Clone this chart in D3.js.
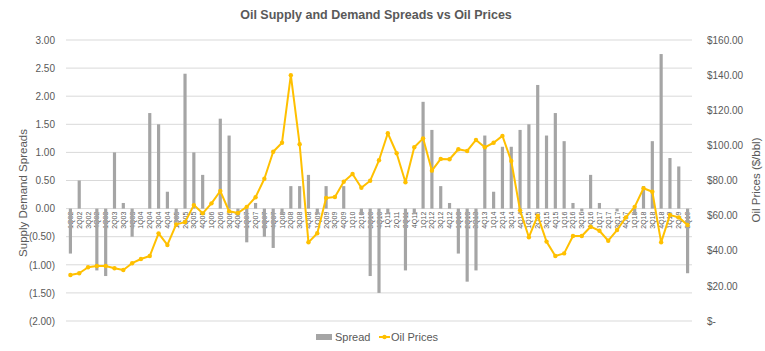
<!DOCTYPE html>
<html>
<head>
<meta charset="utf-8">
<script src="https://cdn.jsdelivr.net/npm/d3@7"></script>
<style>
  body { margin: 0; background: #fff; }
  svg { font-family: "Liberation Sans", Arial, sans-serif; }
</style>
</head>
<body>
<svg id="chart" width="765" height="351"></svg>
<script>

// quarters, 1Q02 .. 3Q19
const quarters = [];
for (let y = 2; y <= 19; y++) {
    for (let q = 1; q <= 4; q++) {
        if (y === 19 && q > 3) break;
        quarters.push(`${q}Q${String(y).padStart(2, '0')}`);
    }
}

// supply demand spread per quarter
const spread = [
    -0.8, 0.5, 0, -1.1,
    -1.2, 1.0, 0.1, -0.5,
    0, 1.7, 1.5, 0.3,
    -0.25, 2.4, 1.0, 0.6,
    0, 1.6, 1.3, -0.15,
    -0.6, 0.1, -0.5, -0.7,
    -0.1, 0.4, 0.4, 0.6,
    -0.1, 0.4, 0, 0.4,
    0, -0.1, -1.2, -1.5,
    -0.1, 0, -1.1, -0.1,
    1.9, 1.4, 0.4, 0.1,
    -0.8, -1.3, -1.1, 1.3,
    0.3, 1.1, 1.1, 1.4,
    1.5, 2.2, 1.3, 1.7,
    1.2, 0.1, -0.05, 0.6,
    0.1, 0, -0.05, 0,
    -0.1, 0.4, 1.2, 2.75,
    0.9, 0.75, -1.15
];

// oil price $/bbl per quarter
const oilPrice = [
    26.2, 27.2, 30.6, 31.3,
    31.3, 30.0, 29.0, 32.9,
    35.3, 37.0, 49.9, 43.3,
    55.0, 56.3, 66.0, 61.3,
    67.0, 74.0, 62.5, 61.5,
    65.0, 70.5, 81.0, 96.4,
    101.5, 140.0, 100.6, 44.8,
    50.0, 70.0, 70.6, 79.3,
    83.7, 75.9, 79.9, 91.5,
    106.9, 95.5, 79.0, 98.9,
    104.0, 85.6, 92.3, 92.1,
    97.8, 96.8, 103.1, 98.9,
    101.5, 105.4, 91.1, 63.0,
    47.7, 60.0, 45.2, 37.0,
    38.5, 48.4, 48.4, 53.7,
    51.4, 45.7, 51.8, 59.0,
    65.0, 75.6, 73.6, 44.8,
    60.4, 59.0, 54.7
];

const leftTicks = [-2, -1.5, -1, -0.5, 0, 0.5, 1, 1.5, 2, 2.5, 3];
const rightTicks = [0, 20, 40, 60, 80, 100, 120, 140, 160];

const svg = d3.select('#chart');
const margin = {top: 40, right: 73, bottom: 30, left: 66};
const width = 765, height = 351;
const textColor = '#595959';

// scales
const x = d3.scaleBand()
    .domain(quarters)
    .range([margin.left, width - margin.right]);
const yL = d3.scaleLinear()
    .domain([-2, 3])
    .range([height - margin.bottom, margin.top]);
const yR = d3.scaleLinear()
    .domain([0, 160])
    .range([height - margin.bottom, margin.top]);

// title
svg.append('text')
    .attr('x', 376)
    .attr('y', 19)
    .attr('text-anchor', 'middle')
    .attr('font-size', 12.5)
    .attr('font-weight', 'bold')
    .attr('fill', textColor)
    .text('Oil Supply and Demand Spreads vs Oil Prices');

// gridlines
svg.append('g')
    .selectAll('line')
    .data(leftTicks)
    .join('line')
        .attr('x1', margin.left)
        .attr('x2', width - margin.right)
        .attr('y1', d => yL(d))
        .attr('y2', d => yL(d))
        .attr('stroke', '#d9d9d9')
        .attr('stroke-width', 1);

// left axis
const fmtL = d => d < 0 ? `(${d3.format('.2f')(-d)})` : d3.format('.2f')(d);
svg.append('g')
    .attr('transform', `translate(${margin.left - 8},0)`)
    .call(d3.axisLeft(yL).tickValues(leftTicks).tickFormat(fmtL).tickSize(0))
    .call(g => g.select('.domain').remove())
    .call(g => g.selectAll('text')
        .attr('font-size', 10)
        .attr('font-family', '"Liberation Sans", Arial, sans-serif')
        .attr('fill', textColor));

// right axis
const fmtR = d => d === 0 ? '$-' : '$' + d3.format('.2f')(d);
svg.append('g')
    .attr('transform', `translate(${width - margin.right + 12},0)`)
    .call(d3.axisRight(yR).tickValues(rightTicks).tickFormat(fmtR).tickSize(0))
    .call(g => g.select('.domain').remove())
    .call(g => g.selectAll('text')
        .attr('font-size', 10)
        .attr('font-family', '"Liberation Sans", Arial, sans-serif')
        .attr('fill', textColor));

// axis titles
svg.append('text')
    .attr('transform', 'translate(27,193) rotate(-90)')
    .attr('text-anchor', 'middle')
    .attr('font-size', 11.5)
    .attr('fill', textColor)
    .text('Supply Demand Spreads');

svg.append('text')
    .attr('transform', 'translate(760,180) rotate(-90)')
    .attr('text-anchor', 'middle')
    .attr('font-size', 11.5)
    .attr('fill', textColor)
    .text('Oil Prices ($/bbl)');

// category labels sit at the zero line, behind the bars
svg.append('g')
    .selectAll('text')
    .data(quarters)
    .join('text')
        .attr('transform', d => `translate(${x(d) + x.bandwidth() / 2 + 2.5},${yL(0) + 3}) rotate(-90)`)
        .attr('text-anchor', 'end')
        .attr('font-size', 7)
        .attr('fill', textColor)
        .text(d => d);

// bars
const barW = x.bandwidth() * 0.36;
svg.append('g')
    .selectAll('rect')
    .data(spread)
    .join('rect')
        .attr('x', (d, i) => x(quarters[i]) + (x.bandwidth() - barW) / 2)
        .attr('y', d => yL(Math.max(0, d)))
        .attr('width', barW)
        .attr('height', d => Math.abs(yL(d) - yL(0)))
        .attr('fill', '#a5a5a5');

// oil price line
const line = d3.line()
    .x((d, i) => x(quarters[i]) + x.bandwidth() / 2)
    .y(d => yR(d));

svg.append('path')
    .datum(oilPrice)
    .attr('fill', 'none')
    .attr('stroke', '#ffc000')
    .attr('stroke-width', 2)
    .attr('stroke-linejoin', 'round')
    .attr('d', line);

svg.append('g')
    .selectAll('circle')
    .data(oilPrice)
    .join('circle')
        .attr('cx', (d, i) => x(quarters[i]) + x.bandwidth() / 2)
        .attr('cy', d => yR(d))
        .attr('r', 2.2)
        .attr('fill', '#ffc000');

// legend
const legend = svg.append('g').attr('transform', 'translate(316,337)');
legend.append('rect')
    .attr('x', 0).attr('y', -3)
    .attr('width', 16).attr('height', 6)
    .attr('fill', '#a5a5a5');
legend.append('text')
    .attr('x', 19).attr('y', 4)
    .attr('font-size', 11)
    .attr('fill', textColor)
    .text('Spread');
legend.append('line')
    .attr('x1', 63).attr('x2', 74)
    .attr('y1', 0).attr('y2', 0)
    .attr('stroke', '#ffc000')
    .attr('stroke-width', 2);
legend.append('circle')
    .attr('cx', 68.5).attr('cy', 0).attr('r', 2.2)
    .attr('fill', '#ffc000');
legend.append('text')
    .attr('x', 75).attr('y', 4)
    .attr('font-size', 11)
    .attr('fill', textColor)
    .text('Oil Prices');

</script>
</body>
</html>
